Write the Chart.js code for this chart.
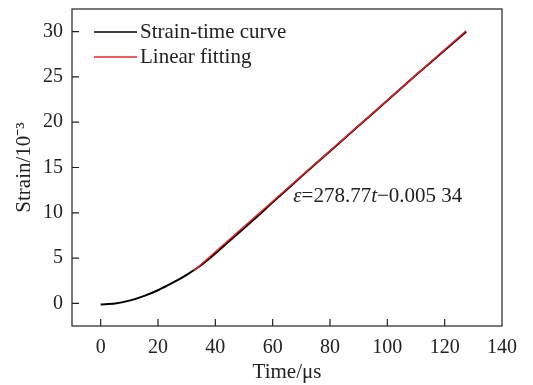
<!DOCTYPE html>
<html><head><meta charset="utf-8">
<script src="https://cdn.jsdelivr.net/npm/chart.js@4.4.0/dist/chart.umd.min.js"></script>
<style>html,body{margin:0;padding:0;background:#fff}#wrap{width:533px;height:385px}</style>
</head><body><div id="wrap"><canvas id="c" width="533" height="385"></canvas></div>
<script>
const curveT = [0, 5, 10, 15, 20, 25, 30, 35, 40, 45, 50, 55, 60, 70, 80, 90, 100, 110, 120, 127.5];
const curveY = [-0.12, -0.02, 0.3, 0.8, 1.45, 2.25, 3.15, 4.2, 5.5, 6.9, 8.3, 9.7, 11.15, 14.0, 16.8, 19.6, 22.4, 25.2, 27.95, 30.0];
const fitT = [32.5, 127.5];
const fitY = [3.6, 30.1];
const xTicks = [0, 20, 40, 60, 80, 100, 120, 140];
const yTicks = [0, 5, 10, 15, 20, 25, 30];
const seriesNames = ['Strain-time curve', 'Linear fitting'];
const seriesColors = ['#000000', '#e8262a'];
const FONT = "'Liberation Serif', 'Times New Roman', serif";

const decor = {
  id: 'decor',
  afterDraw(chart) {
    const ctx = chart.ctx, a = chart.chartArea;
    const xs = chart.scales.x, ys = chart.scales.y;
    ctx.save();
    ctx.strokeStyle = '#222'; ctx.lineWidth = 1.2;
    ctx.strokeRect(a.left, a.top, a.right - a.left, a.bottom - a.top);
    ctx.beginPath();
    xTicks.forEach(v => { const p = xs.getPixelForValue(v); if (p < a.right - 1) { ctx.moveTo(p, a.bottom); ctx.lineTo(p, a.bottom - 7); } });
    yTicks.forEach(v => { const p = ys.getPixelForValue(v); ctx.moveTo(a.left, p); ctx.lineTo(a.left + 7, p); });
    ctx.stroke();
    ctx.font = '21px ' + FONT; ctx.textBaseline = 'middle'; ctx.fillStyle = '#222';
    seriesNames.forEach((n, i) => {
      const y = 32 + i * 25;
      ctx.strokeStyle = seriesColors[i]; ctx.lineWidth = 1.6;
      ctx.beginPath(); ctx.moveTo(94, y); ctx.lineTo(137, y); ctx.stroke();
      ctx.fillText(n, 140, y);
    });
    let px = xs.getPixelForValue(67.2), py = ys.getPixelForValue(11.75);
    const parts = [['italic ', 'ε'], ['', '=278.77'], ['italic ', 't'], ['', '\u22120.005 34']];
    parts.forEach(([st, s]) => { ctx.font = st + '21px ' + FONT; ctx.fillText(s, px, py); px += ctx.measureText(s).width; });
    ctx.restore();
  }
};

new Chart(document.getElementById('c'), {
  type: 'line',
  data: {
    datasets: [
      { label: seriesNames[0], data: curveT.map((t, i) => ({ x: t, y: curveY[i] })), borderColor: seriesColors[0], borderWidth: 2, pointRadius: 0, tension: 0.3, order: 2 },
      { label: seriesNames[1], data: fitT.map((t, i) => ({ x: t, y: fitY[i] })), borderColor: seriesColors[1], borderWidth: 1.5, pointRadius: 0, order: 1 }
    ]
  },
  options: {
    responsive: false, animation: false, devicePixelRatio: 1,
    layout: { padding: { top: 9, right: 31, left: 0, bottom: 0 } },
    plugins: { legend: { display: false }, tooltip: { enabled: false } },
    scales: {
      x: {
        type: 'linear', min: -10, max: 140,
        afterBuildTicks: s => { s.ticks = xTicks.map(v => ({ value: v })); },
        afterFit: s => { s.height = 59; s.paddingLeft = 0; s.paddingRight = 0; },
        grid: { display: false, drawTicks: false },
        border: { display: false },
        ticks: { padding: 10, color: '#222', font: { family: FONT, size: 20 }, maxRotation: 0 },
        title: { display: true, text: 'Time/μs', color: '#222', font: { family: FONT, size: 21 }, padding: { top: 4, bottom: 0 } }
      },
      y: {
        type: 'linear', min: -2.5, max: 32.5,
        afterBuildTicks: s => { s.ticks = yTicks.map(v => ({ value: v })); },
        afterFit: s => { s.width = 72; s.paddingTop = 0; s.paddingBottom = 0; },
        grid: { display: false, drawTicks: false },
        border: { display: false },
        ticks: { padding: 9, color: '#222', font: { family: FONT, size: 20 } },
        title: { display: true, text: 'Strain/10⁻³', color: '#222', font: { family: FONT, size: 21 }, padding: { top: 12, bottom: 4 } }
      }
    }
  },
  plugins: [decor]
});
</script></body></html>
